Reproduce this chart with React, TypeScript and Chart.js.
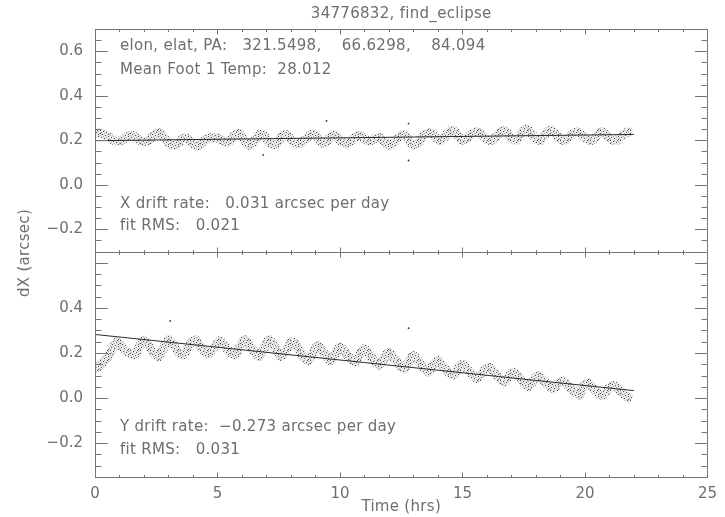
import { useEffect, useRef } from "react";
import { Chart, registerables } from "chart.js";

Chart.register(...registerables);

const TITLE = "34776832, find_eclipse";
const X_LABEL = "Time (hrs)";
const Y_LABEL = "dX (arcsec)";

const TIME_STEP = 0.1; // hours between samples (t = 0.0 ... 21.9)

// X offset (top panel), arcsec
const X_DX = [
  0.225, 0.232, 0.232, 0.230, 0.225, 0.218, 0.210, 0.204, 0.199, 0.196,
  0.196, 0.200, 0.207, 0.214, 0.220, 0.222, 0.218, 0.210, 0.202, 0.196,
  0.193, 0.194, 0.200, 0.210, 0.222, 0.232, 0.236, 0.228, 0.215, 0.200,
  0.188, 0.180, 0.177, 0.178, 0.188, 0.200, 0.208, 0.210, 0.205, 0.195,
  0.185, 0.178, 0.176, 0.182, 0.192, 0.202, 0.208, 0.210, 0.211, 0.212,
  0.210, 0.204, 0.197, 0.192, 0.192, 0.198, 0.210, 0.222, 0.230, 0.228,
  0.215, 0.198, 0.184, 0.178, 0.182, 0.195, 0.212, 0.226, 0.228, 0.220,
  0.206, 0.192, 0.182, 0.178, 0.184, 0.198, 0.214, 0.226, 0.226, 0.216,
  0.204, 0.194, 0.186, 0.184, 0.188, 0.196, 0.206, 0.216, 0.224, 0.228,
  0.222, 0.208, 0.194, 0.186, 0.188, 0.200, 0.214, 0.224, 0.222, 0.212,
  0.200, 0.192, 0.187, 0.186, 0.192, 0.202, 0.212, 0.220, 0.222, 0.216,
  0.206, 0.198, 0.196, 0.200, 0.206, 0.212, 0.212, 0.205, 0.194, 0.184,
  0.178, 0.180, 0.190, 0.202, 0.214, 0.222, 0.224, 0.216, 0.200, 0.186,
  0.178, 0.180, 0.190, 0.204, 0.218, 0.228, 0.234, 0.234, 0.224, 0.212,
  0.203, 0.200, 0.206, 0.218, 0.232, 0.242, 0.245, 0.238, 0.222, 0.208,
  0.200, 0.202, 0.210, 0.220, 0.230, 0.236, 0.238, 0.234, 0.224, 0.212,
  0.204, 0.200, 0.200, 0.208, 0.220, 0.234, 0.243, 0.245, 0.236, 0.222,
  0.210, 0.202, 0.200, 0.210, 0.228, 0.244, 0.252, 0.246, 0.232, 0.218,
  0.206, 0.200, 0.200, 0.212, 0.228, 0.240, 0.245, 0.240, 0.228, 0.215,
  0.205, 0.200, 0.200, 0.208, 0.220, 0.230, 0.236, 0.237, 0.232, 0.222,
  0.212, 0.204, 0.200, 0.200, 0.210, 0.224, 0.234, 0.237, 0.230, 0.218,
  0.208, 0.202, 0.200, 0.200, 0.208, 0.220, 0.230, 0.236, 0.237, 0.235,
];

// Y offset (bottom panel), arcsec
const Y_DY = [
  0.130, 0.135, 0.145, 0.155, 0.165, 0.180, 0.195, 0.215, 0.235, 0.250,
  0.240, 0.225, 0.215, 0.205, 0.200, 0.195, 0.190, 0.205, 0.225, 0.245,
  0.258, 0.245, 0.230, 0.215, 0.200, 0.190, 0.182, 0.200, 0.222, 0.245,
  0.260, 0.250, 0.235, 0.220, 0.205, 0.195, 0.190, 0.205, 0.225, 0.240,
  0.252, 0.258, 0.245, 0.230, 0.215, 0.205, 0.195, 0.200, 0.215, 0.230,
  0.245, 0.255, 0.245, 0.230, 0.215, 0.205, 0.195, 0.190, 0.205, 0.225,
  0.245, 0.260, 0.250, 0.235, 0.220, 0.205, 0.192, 0.185, 0.200, 0.222,
  0.245, 0.260, 0.250, 0.235, 0.215, 0.198, 0.182, 0.195, 0.212, 0.230,
  0.245, 0.250, 0.235, 0.220, 0.200, 0.185, 0.172, 0.165, 0.180, 0.200,
  0.222, 0.234, 0.222, 0.208, 0.192, 0.178, 0.165, 0.175, 0.195, 0.215,
  0.228, 0.218, 0.205, 0.190, 0.178, 0.168, 0.160, 0.172, 0.192, 0.210,
  0.220, 0.208, 0.195, 0.180, 0.165, 0.152, 0.145, 0.158, 0.178, 0.195,
  0.204, 0.192, 0.178, 0.164, 0.150, 0.138, 0.130, 0.142, 0.160, 0.178,
  0.190, 0.178, 0.163, 0.150, 0.136, 0.124, 0.116, 0.128, 0.145, 0.160,
  0.167, 0.156, 0.143, 0.130, 0.118, 0.108, 0.100, 0.110, 0.128, 0.143,
  0.150, 0.140, 0.128, 0.115, 0.103, 0.093, 0.085, 0.095, 0.110, 0.125,
  0.135, 0.137, 0.126, 0.113, 0.100, 0.088, 0.078, 0.070, 0.082, 0.098,
  0.110, 0.115, 0.104, 0.092, 0.080, 0.068, 0.058, 0.050, 0.062, 0.078,
  0.092, 0.100, 0.090, 0.078, 0.067, 0.057, 0.047, 0.040, 0.050, 0.063,
  0.073, 0.077, 0.068, 0.057, 0.046, 0.036, 0.026, 0.018, 0.012, 0.040,
  0.060, 0.070, 0.060, 0.048, 0.036, 0.025, 0.016, 0.010, 0.020, 0.035,
  0.048, 0.055, 0.055, 0.045, 0.035, 0.025, 0.015, 0.007, 0.000, -0.005,
];

// isolated samples away from the main cloud
const X_OUTLIER_T = [6.87, 9.45, 12.8, 12.8];
const X_OUTLIER_V = [0.134, 0.287, 0.275, 0.109];
const Y_OUTLIER_T = [3.07, 12.8];
const Y_OUTLIER_V = [0.342, 0.31];

// linear fits
const FIT_TIMES = [0, 22];
const FIT_X = [0.198, 0.226];
const FIT_Y = [0.282, 0.033];

// axes
const X_RANGE = [0, 25];
const X_TICKS = [0, 5, 10, 15, 20, 25];
const X_MINOR_STEP = 1;
const TOP_Y_RANGE = [-0.3, 0.7];
const TOP_Y_TICKS = [-0.2, 0, 0.2, 0.4, 0.6];
const BOTTOM_Y_RANGE = [-0.35, 0.65];
const BOTTOM_Y_MAJOR = [-0.2, 0, 0.2, 0.4, 0.6];
const BOTTOM_Y_TICKS = [-0.2, 0, 0.2, 0.4];
const Y_MINOR_STEP = 0.05;

// annotations
const TOP_NOTES = [
  "elon, elat, PA:   321.5498,    66.6298,    84.094",
  "Mean Foot 1 Temp:  28.012",
];
const X_FIT_NOTES = ["X drift rate:   0.031 arcsec per day", "fit RMS:   0.021"];
const Y_FIT_NOTES = ["Y drift rate:  \u22120.273 arcsec per day", "fit RMS:   0.031"];

const FONT = "'DejaVu Sans', sans-serif";
const FONT_SIZE = 15;
const TEXT_COLOR = "#6e6e6e";
const FRAME_COLOR = "#747474";

// speckle texture used to imitate the dense cloud of samples
const SPECKLE = [
  "#...+..#..",
  "...#....+.",
  ".+....#...",
  "#...+....+",
  "..#.....#.",
  "+....#....",
  "...+....#.",
  ".#....+...",
  "....#....+",
  "+.......#.",
];

function makeSpeckle(): CanvasPattern | string {
  const c = document.createElement("canvas");
  c.width = SPECKLE[0].length;
  c.height = SPECKLE.length;
  const g = c.getContext("2d");
  if (!g) return "rgba(0,0,0,0.25)";
  SPECKLE.forEach((row, y) => {
    [...row].forEach((ch, x) => {
      g.fillStyle =
        ch === "#" ? "rgba(25,25,25,0.75)" : ch === "+" ? "rgba(70,70,70,0.4)" : "rgba(0,0,0,0.03)";
      g.fillRect(x, y, 1, 1);
    });
  });
  return g.createPattern(c, "repeat") || "rgba(0,0,0,0.25)";
}

const fmtY = (v: number) =>
  (v < -1e-9 ? "\u2212" : "") + Math.abs(v).toFixed(1);

const framePlugin = {
  id: "idlFrame",
  afterDraw(chart: any) {
    const ctx: CanvasRenderingContext2D = chart.ctx;
    const area = chart.chartArea;
    const xs = chart.scales.x;
    const panels = [
      { s: chart.scales.yTop, major: TOP_Y_TICKS, range: TOP_Y_RANGE },
      { s: chart.scales.yBottom, major: BOTTOM_Y_MAJOR, range: BOTTOM_Y_RANGE },
    ];
    ctx.save();
    ctx.strokeStyle = FRAME_COLOR;
    ctx.lineWidth = 1;
    const line = (x1: number, y1: number, x2: number, y2: number) => {
      ctx.beginPath();
      ctx.moveTo(x1, y1);
      ctx.lineTo(x2, y2);
      ctx.stroke();
    };
    for (const p of panels) {
      const top = Math.round(p.s.top) + 0.5;
      const bot = Math.round(p.s.bottom) + 0.5;
      const l = Math.round(area.left) + 0.5;
      const r = Math.round(area.right) + 0.5;
      ctx.strokeRect(l, top, r - l, bot - top);
      const nMin = Math.round((p.range[1] - p.range[0]) / Y_MINOR_STEP);
      for (let k = 0; k <= nMin; k++) {
        const v = p.range[0] + k * Y_MINOR_STEP;
        const isMaj = p.major.some((m) => Math.abs(m - v) < 1e-6);
        const y = Math.round(p.s.getPixelForValue(v)) + 0.5;
        const len = isMaj ? 12.5 : 6;
        line(l, y, l + len, y);
        line(r, y, r - len, y);
      }
      for (let v = X_RANGE[0]; v <= X_RANGE[1] + 1e-9; v += X_MINOR_STEP) {
        const isMaj = X_TICKS.includes(v);
        const x = Math.round(xs.getPixelForValue(v)) + 0.5;
        const len = isMaj ? 5 : 2.5;
        line(x, bot, x, bot - len);
        line(x, top, x, top + len);
      }
    }
    ctx.fillStyle = TEXT_COLOR;
    ctx.font = `${FONT_SIZE}px ${FONT}`;
    (ctx as any).letterSpacing = "0.3px";
    ctx.textBaseline = "middle";
    ctx.textAlign = "center";
    const cx = (area.left + area.right) / 2;
    ctx.fillText(TITLE, cx, 14);
    ctx.fillText(X_LABEL, cx, 507);
    ctx.save();
    ctx.translate(25, (area.top + area.bottom) / 2);
    ctx.rotate(-Math.PI / 2);
    ctx.fillText(Y_LABEL, 0, 0);
    ctx.restore();
    ctx.textAlign = "left";
    const tx = area.left + 25;
    const yt = chart.scales.yTop;
    const yb = chart.scales.yBottom;
    ctx.fillText(TOP_NOTES[0], tx, yt.top + 17.5);
    ctx.fillText(TOP_NOTES[1], tx, yt.top + 41.5);
    ctx.fillText(X_FIT_NOTES[0], tx, yt.bottom - 47.5);
    ctx.fillText(X_FIT_NOTES[1], tx, yt.bottom - 25);
    ctx.fillText(Y_FIT_NOTES[0], tx, yb.bottom - 49.5);
    ctx.fillText(Y_FIT_NOTES[1], tx, yb.bottom - 27);
    ctx.restore();
  },
};

export default function App() {
  const ref = useRef<HTMLCanvasElement>(null);
  useEffect(() => {
    const speckle = makeSpeckle();
    const times = X_DX.map((_, i) => Math.round(i * TIME_STEP * 10) / 10);
    const xPts = times.map((t, i) => ({ x: t, y: X_DX[i] }));
    const yPts = times.map((t, i) => ({ x: t, y: Y_DY[i] }));
    const xFit = FIT_TIMES.map((t, i) => ({ x: t, y: FIT_X[i] }));
    const yFit = FIT_TIMES.map((t, i) => ({ x: t, y: FIT_Y[i] }));
    const xOut = X_OUTLIER_T.map((t, i) => ({ x: t, y: X_OUTLIER_V[i] }));
    const yOut = Y_OUTLIER_T.map((t, i) => ({ x: t, y: Y_OUTLIER_V[i] }));
    const band = {
      borderColor: "rgba(0,0,0,0.06)",
      borderWidth: 9,
      pointRadius: 0,
      tension: 0.1,
      order: 3,
    };
    const tex = {
      borderColor: speckle,
      borderWidth: 9,
      pointRadius: 0,
      tension: 0.1,
      order: 2,
    };
    const fit = {
      borderColor: "#2a2a2a",
      borderWidth: 1,
      pointRadius: 0,
      order: 1,
    };
    const out = {
      showLine: false,
      pointRadius: 0.9,
      pointBorderWidth: 0,
      pointBackgroundColor: "#333",
      order: 1,
    };
    const yAxisCommon = (ticks: number[]) => ({
      type: "linear" as const,
      position: "left" as const,
      stack: "panels",
      grid: { display: false, drawTicks: false },
      border: { display: false },
      ticks: {
        color: TEXT_COLOR,
        font: { family: FONT, size: FONT_SIZE },
        padding: 12,
        callback: (v: any) => fmtY(Number(v)),
      },
      afterBuildTicks: (s: any) => {
        s.ticks = ticks.map((v) => ({ value: v }));
      },
      afterFit: (s: any) => {
        s.width = 95;
      },
    });
    const chart = new Chart(ref.current!, {
      type: "line",
      data: {
        datasets: [
          { label: "dX band", data: xPts, yAxisID: "yTop", ...band },
          { label: "dX", data: xPts, yAxisID: "yTop", ...tex },
          { label: "dX outliers", data: xOut, yAxisID: "yTop", ...out },
          { label: "dX fit", data: xFit, yAxisID: "yTop", ...fit },
          { label: "dY band", data: yPts, yAxisID: "yBottom", ...band },
          { label: "dY", data: yPts, yAxisID: "yBottom", ...tex },
          { label: "dY outliers", data: yOut, yAxisID: "yBottom", ...out },
          { label: "dY fit", data: yFit, yAxisID: "yBottom", ...fit },
        ] as any,
      },
      options: {
        responsive: false,
        animation: false,
        devicePixelRatio: 1,
        layout: { padding: { left: 0, right: 11, top: 29, bottom: 0 } },
        plugins: {
          legend: { display: false },
          tooltip: { enabled: false },
          title: { display: false },
        },
        scales: {
          x: {
            type: "linear",
            min: X_RANGE[0],
            max: X_RANGE[1],
            grid: { display: false, drawTicks: false },
            border: { display: false },
            ticks: {
              color: TEXT_COLOR,
              font: { family: FONT, size: FONT_SIZE },
              padding: 8,
              maxRotation: 0,
              autoSkip: false,
              callback: (v: any) => String(v),
            },
            afterBuildTicks: (s: any) => {
              s.ticks = X_TICKS.map((v) => ({ value: v }));
            },
            afterFit: (s: any) => {
              s.height = 40;
            },
          },
          yBottom: {
            ...yAxisCommon(BOTTOM_Y_TICKS),
            min: BOTTOM_Y_RANGE[0],
            max: BOTTOM_Y_RANGE[1],
            stackWeight: 225.5,
          },
          yTop: {
            ...yAxisCommon(TOP_Y_TICKS),
            min: TOP_Y_RANGE[0],
            max: TOP_Y_RANGE[1],
            stackWeight: 222.5,
          },
        } as any,
      },
      plugins: [framePlugin],
    });
    return () => chart.destroy();
  }, []);
  return (
    <div
      style={{
        position: "fixed",
        left: 0,
        top: 0,
        width: 725,
        height: 517,
        background: "#fff",
      }}
    >
      <canvas
        ref={ref}
        width={725}
        height={517}
        style={{ display: "block", width: 725, height: 517 }}
      />
    </div>
  );
}
